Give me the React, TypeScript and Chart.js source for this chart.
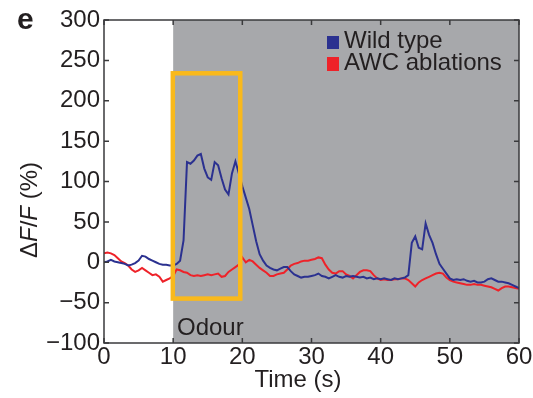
import React, { useEffect, useRef } from "react";
import { Chart, registerables } from "chart.js";

Chart.register(...registerables);

const TIMES = [
  0, 0.5, 1, 1.5, 2, 2.5, 3, 3.5, 4, 4.5, 5, 5.5, 6, 6.5, 7, 7.5, 8, 8.5, 9, 9.5,
  10, 10.5, 11, 11.5, 12, 12.5, 13, 13.5, 14, 14.5, 15, 15.5, 16, 16.5, 17, 17.5, 18, 18.5, 19, 19.5,
  20, 20.5, 21, 21.5, 22, 22.5, 23, 23.5, 24, 24.5, 25, 25.5, 26, 26.5, 27, 27.5, 28, 28.5, 29, 29.5,
  30, 30.5, 31, 31.5, 32, 32.5, 33, 33.5, 34, 34.5, 35, 35.5, 36, 36.5, 37, 37.5, 38, 38.5, 39, 39.5,
  40, 40.5, 41, 41.5, 42, 42.5, 43, 43.5, 44, 44.5, 45, 45.5, 46, 46.5, 47, 47.5, 48, 48.5, 49, 49.5,
  50, 50.5, 51, 51.5, 52, 52.5, 53, 53.5, 54, 54.5, 55, 55.5, 56, 56.5, 57, 57.5, 58, 58.5, 59, 59.5,
  60,
];

const WILD_TYPE = [
  0, 1, 3, 1, 0, -1, -2, -4, -3, -1, 2, 8, 7, 4, 2, 0, -2, -3, -3, -4,
  -4, -2, 2, 27, 124, 122, 126, 132, 134, 116, 105, 102, 124, 120, 104, 90, 84, 110, 125, 110,
  94, 80, 66, 46, 26, 10, 2, -4, -7, -9, -10, -8, -6, -6, -11, -15, -17, -19, -18, -18,
  -17, -16, -14, -17, -18, -20, -18, -16, -18, -19, -17, -18, -17, -18, -19, -18, -20, -19, -21, -20,
  -21, -20, -21, -22, -20, -21, -20, -19, -16, 24, 32, 18, 16, 48, 34, 24, 10, -2, -8, -14,
  -20, -22, -21, -22, -21, -23, -24, -23, -25, -25, -24, -21, -20, -22, -24, -24, -25, -26, -28, -30,
  -32,
];

const AWC_ABLATIONS = [
  11, 12, 11, 9, 5, 1, -1, -4, -9, -12, -10, -7, -10, -13, -16, -15, -18, -24, -22, -20,
  -17, -9, -10, -12, -13, -16, -17, -16, -17, -16, -15, -16, -15, -14, -18, -17, -12, -9, -6, -3,
  6, 0, 3, 1, -3, -7, -10, -13, -17, -17, -15, -14, -13, -9, -4, -2, -1, 1, 2, 2,
  3, 4, 6, 5, -3, -9, -13, -14, -11, -11, -15, -17, -20, -16, -12, -10, -10, -11, -16, -20,
  -22, -21, -22, -22, -21, -21, -20, -20, -22, -26, -30, -25, -22, -20, -18, -16, -14, -13, -14, -19,
  -22, -24, -25, -26, -27, -28, -28, -27, -28, -28, -29, -30, -31, -33, -35, -32, -30, -30, -31, -32,
  -33,
];

const SERIES_NAMES = ["Wild type", "AWC ablations"];
const X_TICKS = [0, 10, 20, 30, 40, 50, 60];
const Y_TICKS = [-100, -50, 0, 50, 100, 150, 200, 250, 300];
const ODOUR_WINDOW = [10, 60];
const BOX_T = [9.95, 19.7];
const BOX_V = [-45, 234];

const BLUE = "#2b3190";
const RED = "#ee2229";
const GREY = "#a7a8ab";
const YELLOW = "#f9b91c";
const INK = "#231f20";
const FONT = "'Liberation Sans', Arial, Helvetica, sans-serif";

export default function App() {
  const ref = useRef<HTMLCanvasElement | null>(null);

  useEffect(() => {
    const canvas = ref.current;
    if (!canvas) return;

    const decor = {
      id: "decor",
      beforeDatasetsDraw(chart: any) {
        const { ctx, chartArea, scales } = chart;
        const x = scales.x;
        ctx.save();
        ctx.fillStyle = GREY;
        const x0 = x.getPixelForValue(ODOUR_WINDOW[0]);
        const x1 = x.getPixelForValue(ODOUR_WINDOW[1]);
        ctx.fillRect(x0, chartArea.top, x1 - x0, chartArea.bottom - chartArea.top);
        ctx.restore();
      },
      afterDatasetsDraw(chart: any) {
        const { ctx, chartArea, scales } = chart;
        const x = scales.x;
        const y = scales.y;
        ctx.save();
        // yellow box
        ctx.strokeStyle = YELLOW;
        ctx.lineWidth = 4.5;
        const bx0 = x.getPixelForValue(BOX_T[0]);
        const bx1 = x.getPixelForValue(BOX_T[1]);
        const by0 = y.getPixelForValue(BOX_V[1]);
        const by1 = y.getPixelForValue(BOX_V[0]);
        ctx.strokeRect(bx0, by0, bx1 - bx0, by1 - by0);

        // frame
        ctx.strokeStyle = "#3a3a3c";
        ctx.lineWidth = 1.5;
        ctx.strokeRect(chartArea.left, chartArea.top, chartArea.right - chartArea.left, chartArea.bottom - chartArea.top);

        // inward ticks
        const tl = 5;
        ctx.beginPath();
        X_TICKS.forEach((t) => {
          const px = x.getPixelForValue(t);
          ctx.moveTo(px, chartArea.bottom);
          ctx.lineTo(px, chartArea.bottom - tl);
          ctx.moveTo(px, chartArea.top);
          ctx.lineTo(px, chartArea.top + tl);
        });
        Y_TICKS.forEach((v) => {
          const py = y.getPixelForValue(v);
          ctx.moveTo(chartArea.left, py);
          ctx.lineTo(chartArea.left + tl, py);
          ctx.moveTo(chartArea.right, py);
          ctx.lineTo(chartArea.right - tl, py);
        });
        ctx.stroke();

        ctx.fillStyle = INK;
        ctx.textBaseline = "alphabetic";
        ctx.textAlign = "left";
        // Odour label
        ctx.font = `24px ${FONT}`;
        ctx.fillText("Odour", 177, 335);

        // legend
        ctx.fillStyle = BLUE;
        ctx.fillRect(327, 36, 12, 13);
        ctx.fillStyle = RED;
        ctx.fillRect(327, 57, 12, 14);
        ctx.fillStyle = INK;
        ctx.font = `24px ${FONT}`;
        ctx.fillText(SERIES_NAMES[0], 344, 48);
        ctx.fillText(SERIES_NAMES[1], 344, 70);

        // panel letter
        ctx.font = `bold 30px ${FONT}`;
        ctx.fillText("e", 17, 29);

        // x title
        ctx.font = `24px ${FONT}`;
        ctx.textAlign = "center";
        ctx.fillText("Time (s)", 298, 387);

        // y title with italic F
        ctx.translate(37, 210);
        ctx.rotate(-Math.PI / 2);
        const parts: [string, string][] = [
          ["Δ", `24px ${FONT}`],
          ["F", `italic 24px ${FONT}`],
          ["/", `24px ${FONT}`],
          ["F", `italic 24px ${FONT}`],
          [" (%)", `24px ${FONT}`],
        ];
        let total = 0;
        parts.forEach(([s, f]) => {
          ctx.font = f;
          total += ctx.measureText(s).width;
        });
        let cx = -total / 2;
        ctx.textAlign = "left";
        parts.forEach(([s, f]) => {
          ctx.font = f;
          ctx.fillText(s, cx, 0);
          cx += ctx.measureText(s).width;
        });
        ctx.restore();
      },
    };

    const chart = new Chart(canvas, {
      type: "line",
      data: {
        datasets: [
          {
            label: SERIES_NAMES[0],
            data: TIMES.map((t, i) => ({ x: t, y: WILD_TYPE[i] })),
            borderColor: BLUE,
            borderWidth: 2,
            pointRadius: 0,
            tension: 0,
          },
          {
            label: SERIES_NAMES[1],
            data: TIMES.map((t, i) => ({ x: t, y: AWC_ABLATIONS[i] })),
            borderColor: RED,
            borderWidth: 2,
            pointRadius: 0,
            tension: 0,
          },
        ],
      },
      options: {
        responsive: false,
        animation: false,
        devicePixelRatio: 1,
        layout: { padding: { left: 0, top: 20, right: 14, bottom: 0 } },
        plugins: { legend: { display: false }, tooltip: { enabled: false } },
        scales: {
          x: {
            type: "linear",
            min: 0,
            max: 60,
            afterBuildTicks: (s: any) => {
              s.ticks = X_TICKS.map((v) => ({ value: v }));
            },
            afterFit: (s: any) => {
              s.height = 55;
            },
            ticks: {
              color: INK,
              font: { family: FONT, size: 24 },
              padding: 0,
              maxRotation: 0,
              autoSkip: false,
            },
            grid: { display: false, drawTicks: false },
            border: { display: false },
          },
          y: {
            type: "linear",
            min: -100,
            max: 300,
            afterBuildTicks: (s: any) => {
              s.ticks = Y_TICKS.map((v) => ({ value: v }));
            },
            afterFit: (s: any) => {
              s.width = 104;
            },
            ticks: {
              color: INK,
              font: { family: FONT, size: 24 },
              padding: 4,
              autoSkip: false,
              callback: (v: any) => (v < 0 ? "\u2212" + Math.abs(v) : String(v)),
            },
            grid: { display: false, drawTicks: false },
            border: { display: false },
          },
        },
      },
      plugins: [decor],
    } as any);

    return () => chart.destroy();
  }, []);

  return (
    <div style={{ position: "fixed", left: 0, top: 0, width: 533, height: 398, background: "#fff" }}>
      <canvas ref={ref} width={533} height={398} style={{ display: "block" }} />
    </div>
  );
}
